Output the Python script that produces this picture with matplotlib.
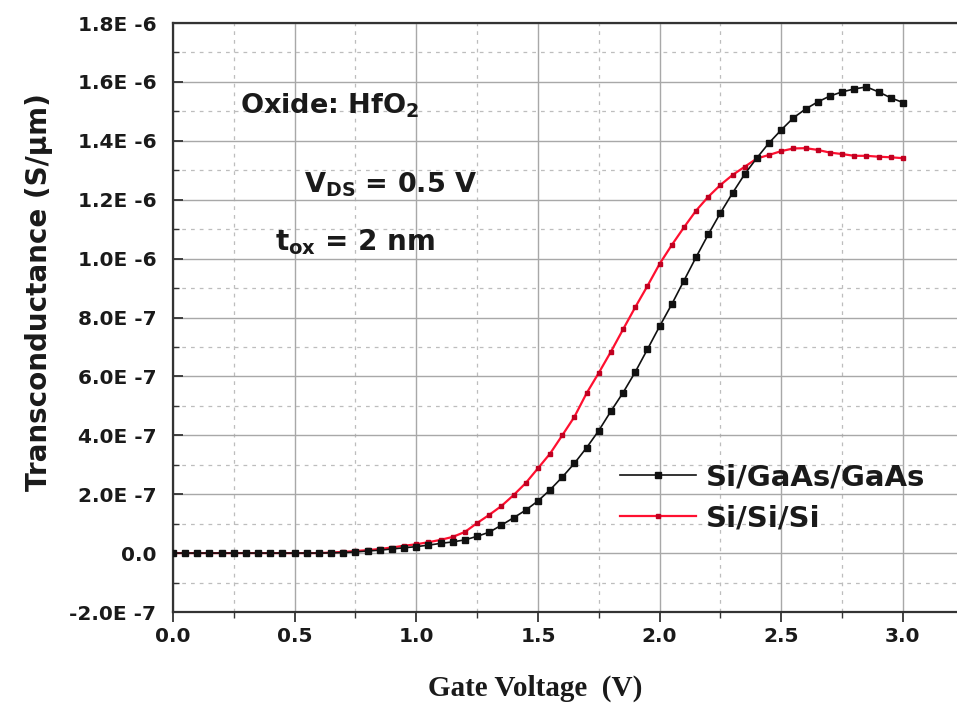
import matplotlib
matplotlib.use("Agg")
import matplotlib.pyplot as plt
from matplotlib.ticker import MultipleLocator, FixedLocator

gate_voltage = [round(0.05 * i, 2) for i in range(61)]

# Transconductance in units of 1e-7 S/um
gm_si_gaas_gaas = [0, 0, 0, 0, 0, 0, 0, 0, 0, 0,
                   0, 0, 0, 0.01, 0.02, 0.04, 0.07, 0.10, 0.14, 0.18,
                   0.22, 0.27, 0.33, 0.38, 0.45, 0.57, 0.71, 0.95, 1.20, 1.46,
                   1.77, 2.15, 2.58, 3.05, 3.58, 4.16, 4.82, 5.45, 6.15, 6.92,
                   7.70, 8.45, 9.25, 10.05, 10.82, 11.55, 12.23, 12.87, 13.42, 13.93,
                   14.37, 14.78, 15.08, 15.32, 15.52, 15.66, 15.76, 15.83, 15.66, 15.46,
                   15.30]
gm_si_si_si = [0, 0, 0, 0, 0, 0, 0, 0, 0, 0,
               0, 0, 0, 0.02, 0.04, 0.07, 0.10, 0.14, 0.19, 0.25,
               0.30, 0.37, 0.45, 0.55, 0.72, 1.02, 1.30, 1.60, 1.97, 2.38,
               2.88, 3.38, 4.00, 4.63, 5.43, 6.12, 6.84, 7.60, 8.35, 9.07,
               9.82, 10.46, 11.06, 11.63, 12.10, 12.50, 12.84, 13.12, 13.40, 13.52,
               13.65, 13.74, 13.75, 13.69, 13.60, 13.55, 13.49, 13.49, 13.46, 13.44,
               13.41]

series_labels = ["Si/GaAs/GaAs", "Si/Si/Si"]
x_ticks = [0.0, 0.5, 1.0, 1.5, 2.0, 2.5, 3.0]
x_tick_labels = ["0.0", "0.5", "1.0", "1.5", "2.0", "2.5", "3.0"]
y_ticks = [-2e-7, 0, 2e-7, 4e-7, 6e-7, 8e-7, 1e-6, 1.2e-6, 1.4e-6, 1.6e-6, 1.8e-6]
y_tick_labels = ["-2.0E -7", "0.0", "2.0E -7", "4.0E -7", "6.0E -7", "8.0E -7",
                 "1.0E -6", "1.2E -6", "1.4E -6", "1.6E -6", "1.8E -6"]

txt = "#1a1a1a"
fig = plt.figure(figsize=(9.57, 7.15), dpi=100)
ax = fig.add_axes([173 / 957, 103 / 715, (960 - 173) / 957, (612 - 23) / 715])

y1 = [v * 1e-7 for v in gm_si_gaas_gaas]
y2 = [v * 1e-7 for v in gm_si_si_si]
ax.plot(gate_voltage, y1, color="#111111", lw=1.2, marker="s", ms=5,
        mfc="#111111", mec="#111111", label=series_labels[0], zorder=4)
ax.plot(gate_voltage, y2, color="#ff1030", lw=1.6, marker="s", ms=2.6,
        mfc="#c00020", mec="#c00020", label=series_labels[1], zorder=3)

ax.set_xlim(0, (960 - 173) / 243.3)
ax.set_ylim(-2e-7, 1.8e-6)
ax.xaxis.set_major_locator(FixedLocator(x_ticks))
ax.set_xticklabels(x_tick_labels)
ax.xaxis.set_minor_locator(MultipleLocator(0.25))
ax.yaxis.set_major_locator(FixedLocator(y_ticks))
ax.set_yticklabels(y_tick_labels)
ax.yaxis.set_minor_locator(MultipleLocator(1e-7))

ax.grid(which="major", color="#a8a8a8", lw=1.0, ls="-")
ax.grid(which="minor", color="#bdbdbd", lw=0.9, ls=(0, (3, 4)))
ax.set_axisbelow(True)

for s in ax.spines.values():
    s.set_color("#333333")
    s.set_linewidth(1.6)

ax.tick_params(axis="x", which="major", direction="out", length=7, width=1.3,
               colors="#333333", labelcolor=txt, pad=4)
ax.tick_params(axis="x", which="minor", direction="out", length=4, width=1.0, colors="#333333")
ax.tick_params(axis="y", which="major", direction="in", length=7, width=1.3,
               colors="#333333", labelcolor=txt, pad=12)
ax.tick_params(axis="y", which="minor", direction="in", length=4, width=1.0, colors="#333333")
for lab in ax.get_xticklabels() + ax.get_yticklabels():
    lab.set_fontfamily("DejaVu Sans")
    lab.set_fontweight("bold")
    lab.set_fontsize(14.5)

ax.set_ylabel("Transconductance (S/\u03bcm)", fontsize=20, fontweight="bold",
              family="DejaVu Sans", color=txt, va="center")
ax.yaxis.set_label_coords((39 - 173) / 787, (612 - 292) / 589)
ax.set_xlabel("Gate Voltage  (V)", fontsize=21, fontweight="bold",
              family="Liberation Serif", color=txt, va="center")
ax.xaxis.set_label_coords((535 - 173) / 787, (612 - 688) / 589)

ax.text(0.275, 1.52e-6, r"Oxide: HfO$_{\mathbf{2}}$", fontsize=19.5, color=txt,
        va="center", ha="left", family="DejaVu Sans", fontweight="bold")
ax.text(0.54, 1.25e-6, r"V$_{\mathbf{DS}}$ = 0.5 V", fontsize=19.5, color=txt,
        va="center", ha="left", family="DejaVu Sans", fontweight="bold")
ax.text(0.42, 1.056e-6, r"t$_{\mathbf{ox}}$ = 2 nm", fontsize=20, color=txt,
        va="center", ha="left", family="DejaVu Sans", fontweight="bold")

leg = ax.legend(loc="upper left", bbox_to_anchor=((620 - 173) / 787, (612 - 463) / 589),
                frameon=False, prop={"family": "DejaVu Sans", "weight": "bold", "size": 21},
                handlelength=2.6, handletextpad=0.35, labelspacing=0.45, borderaxespad=0,
                borderpad=0, numpoints=1, markerscale=1.0)
for t in leg.get_texts():
    t.set_color(txt)

fig.savefig("out.png", dpi=100)
